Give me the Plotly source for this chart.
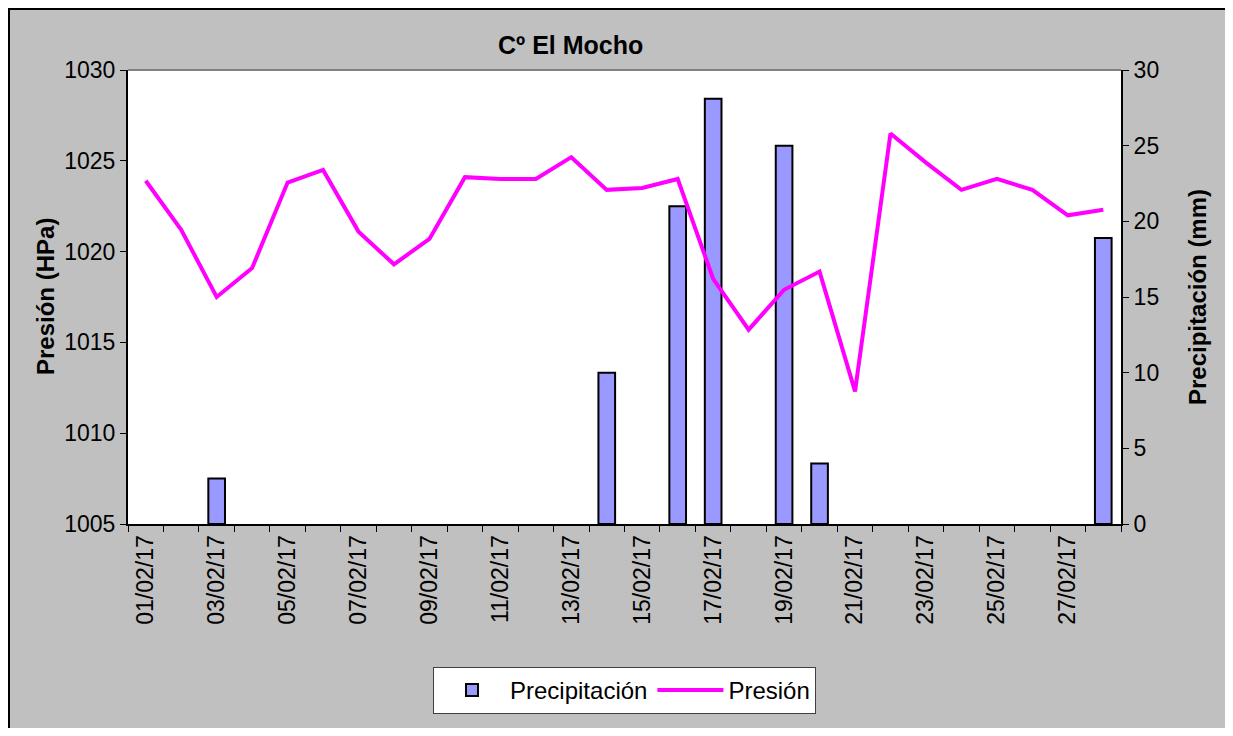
import plotly.graph_objects as go

dates = [f"{d:02d}/02/17" for d in range(1, 29)]
presion = [1023.9, 1021.2, 1017.5, 1019.1, 1023.8, 1024.5, 1021.1, 1019.3, 1020.7, 1024.1,
           1024.0, 1024.0, 1025.2, 1023.4, 1023.5, 1024.0, 1018.5, 1015.7, 1017.9, 1018.9,
           1012.3, 1026.5, 1024.9, 1023.4, 1024.0, 1023.4, 1022.0, 1022.3]
precip = [0, 0, 3.0, 0, 0, 0, 0, 0, 0, 0,
          0, 0, 0, 10.0, 0, 21.0, 28.1, 0, 25.0, 4.0,
          0, 0, 0, 0, 0, 0, 0, 18.9]
tick_text = [d if i % 2 == 0 else "" for i, d in enumerate(dates)]

OFF = 8  # page body margin
W, H = 1233 - 2 * OFF, 736 - 2 * OFF
# plot area in page pixel coords
L, R, T, B = 128, 1121, 70, 524

def px(x):
    return (x - L) / (R - L)

def py(y):
    return (B - y) / (B - T)

FONT = "Liberation Sans, Arial, sans-serif"

fig = go.Figure()
fig.add_trace(go.Bar(x=dates, y=[v if v > 0 else None for v in precip], name="Precipitación",
                     yaxis="y",
                     marker=dict(color="#9999FF", line=dict(color="black", width=2)),
                     width=0.47))
fig.add_trace(go.Scatter(x=dates, y=presion, name="Presión", yaxis="y2", mode="lines",
                         line=dict(color="#FF00FF", width=4)))

shapes = [
    dict(type="line", xref="paper", yref="paper", x0=px(9), x1=px(9), y0=py(740), y1=py(8),
         line=dict(color="black", width=2)),
    dict(type="line", xref="paper", yref="paper", x0=px(8), x1=px(1240), y0=py(9), y1=py(9),
         line=dict(color="black", width=2)),
    dict(type="line", xref="paper", yref="paper", x0=0, x1=1, y0=1, y1=1,
         line=dict(color="#808080", width=2)),
]

fig.update_layout(
    width=W, height=H,
    margin=dict(l=L - OFF, r=W - (R - OFF), t=T - OFF, b=H - (B - OFF)),
    paper_bgcolor="#C0C0C0", plot_bgcolor="white",
    font=dict(family=FONT, size=23, color="black"),
    showlegend=True,
    legend=dict(orientation="h", x=0.5, xanchor="center", y=py(667), yanchor="top",
                bgcolor="white", bordercolor="#404040", borderwidth=1,
                font=dict(size=24), itemwidth=66, tracegroupgap=0),
    xaxis=dict(type="category", tickmode="array", tickvals=dates, ticktext=tick_text,
               tickangle=-90, tickson="boundaries", ticks="outside", ticklen=6,
               tickcolor="black", showline=True, linecolor="black", linewidth=2,
               showgrid=False, tickfont=dict(size=23)),
    yaxis=dict(side="right", range=[0, 30], tickvals=[0, 5, 10, 15, 20, 25, 30],
               ticks="outside", ticklen=6, tickcolor="black", showline=True,
               linecolor="black", linewidth=2, showgrid=False, zeroline=False,
               tickfont=dict(size=23)),
    yaxis2=dict(side="left", overlaying="y", range=[1005, 1030],
                tickvals=[1005, 1010, 1015, 1020, 1025, 1030],
                ticks="outside", ticklen=6, tickcolor="black", showline=True,
                linecolor="black", linewidth=2, showgrid=False, zeroline=False,
                tickfont=dict(size=23)),
    shapes=shapes,
    annotations=[
        dict(text="<b>Cº El Mocho</b>", xref="paper", yref="paper", x=px(570), y=py(45),
             showarrow=False, font=dict(size=25), xanchor="center", yanchor="middle"),
        dict(text="<b>Presión (HPa)</b>", xref="paper", yref="paper", x=px(45), y=0.5,
             showarrow=False, textangle=-90, font=dict(size=24), xanchor="center", yanchor="middle"),
        dict(text="<b>Precipitación (mm)</b>", xref="paper", yref="paper", x=px(1197), y=0.5,
             showarrow=False, textangle=-90, font=dict(size=24), xanchor="center", yanchor="middle"),
    ],
)

fig.write_html("out.html")
